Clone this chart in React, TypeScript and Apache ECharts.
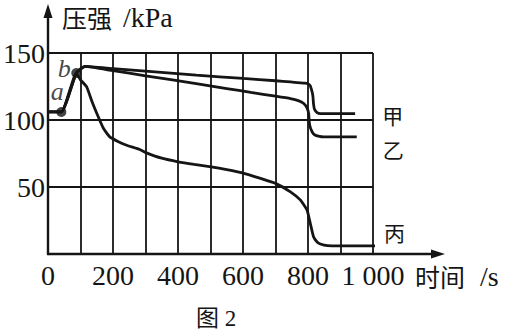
import React, { useEffect, useRef } from 'react';
import * as echarts from 'echarts';

// time (s) vs pressure (kPa)
const xTickValues = [0, 200, 400, 600, 800, 1000];
const yTickValues = [50, 100, 150];
const seriesNames = ['甲', '乙', '丙'];
const pointNames = ['a', 'b'];
const pointData = [[41, 106], [87, 135]];

const jiaData = [
  [0, 106], [41, 106], [87, 135], [114, 140], [200, 138.3], [300, 136.4], [456, 133.5],
  [600, 131], [700, 129.3], [746, 128.4], [790, 127.5], [800, 127], [807, 125.5],
  [812, 121.5], [815, 118], [817, 112], [820, 108], [828, 105.5], [838, 104.8], [945, 104.8],
];
const yiData = [
  [0, 106], [41, 106], [87, 135], [114, 140], [200, 136.8], [300, 133], [456, 127.2],
  [550, 123.5], [624, 120.6], [700, 117.8], [746, 116], [770, 114.5], [787, 112.3],
  [797, 109], [802, 104.8], [804, 98], [807, 94.5], [813, 91], [820, 89], [835, 87.8],
  [848, 87.4], [950, 87.4],
];
const bingData = [
  [0, 106], [41, 106], [87, 135], [100, 130], [119, 124.7], [135, 114], [150, 105],
  [170, 94], [190, 87.4], [215, 84], [242, 81.2], [282, 78], [303, 75.5], [350, 71.5],
  [400, 68.8], [450, 66.8], [502, 65], [550, 63], [598, 60.6], [654, 56.4], [700, 52.7],
  [746, 46.4], [777, 40.2], [797, 32.8], [807, 22.9], [817, 12.9], [828, 9], [838, 7.5],
  [860, 6.2], [899, 6], [1026, 6],
];

export default function App() {
  const ref = useRef<HTMLDivElement>(null);
  useEffect(() => {
    document.body.style.margin = '0';
    const chart = echarts.init(ref.current!, null, { renderer: 'svg' });
    const serif = 'Liberation Serif, Times New Roman, DejaVu Serif, serif';
    const cjk = 'Noto Sans CJK SC, sans-serif';
    const mixed = 'Liberation Serif, DejaVu Serif, Noto Sans CJK SC, serif';
    const ink = '#151515';

    const lineSeries = (name: string, data: number[][], offset: number[]) => ({
      type: 'line',
      name,
      data,
      symbol: 'none',
      smooth: 0.15,
      lineStyle: { color: ink, width: 2.8 },
      endLabel: {
        show: true,
        formatter: () => name,
        fontFamily: cjk,
        fontSize: 21,
        color: ink,
        distance: 5,
        offset,
      },
      z: 3,
    });

    chart.setOption({
      animation: false,
      backgroundColor: '#ffffff',
      grid: { left: 46, right: 133, top: 53, bottom: 77 },
      xAxis: {
        type: 'value',
        min: 0,
        max: 1000,
        interval: 100,
        axisLine: { show: true, lineStyle: { color: ink, width: 2.4 } },
        axisTick: { show: false },
        splitLine: { show: true, lineStyle: { color: ink, width: 1.8 } },
        axisLabel: {
          margin: 7,
          fontFamily: serif,
          fontSize: 28,
          color: ink,
          showMaxLabel: true,
          showMinLabel: true,
          formatter: (v: number) =>
            xTickValues.includes(v) ? (v >= 1000 ? '1 000' : String(v)) : '',
        },
      },
      yAxis: {
        type: 'value',
        min: 0,
        max: 150,
        interval: 50,
        axisLine: { show: true, lineStyle: { color: ink, width: 2.4 } },
        axisTick: { show: false },
        splitLine: { show: true, lineStyle: { color: ink, width: 1.8 } },
        axisLabel: {
          margin: 3,
          fontFamily: serif,
          fontSize: 28,
          color: ink,
          formatter: (v: number) => (yTickValues.includes(v) ? String(v) : ''),
        },
      },
      series: [
        lineSeries(seriesNames[0], jiaData, [22, 1]),
        lineSeries(seriesNames[1], yiData, [21, 12]),
        lineSeries(seriesNames[2], bingData, [4, -14]),
        {
          type: 'scatter',
          data: pointData.map((p, i) => ({
            value: p,
            label: {
              show: true,
              formatter: pointNames[i],
              position: 'inside',
              offset: i === 0 ? [-4, -20] : [-12, -5],
              fontFamily: serif,
              fontStyle: 'italic',
              fontSize: 26,
              color: ink,
            },
          })),
          symbol: 'circle',
          symbolSize: 10,
          itemStyle: { color: ink },
          z: 5,
        },
      ],
    });

    const o = chart.convertToPixel({ gridIndex: 0 }, [0, 0]) as number[];
    const tr = chart.convertToPixel({ gridIndex: 0 }, [1000, 150]) as number[];
    const x0 = o[0];
    const y0 = o[1];
    const yTip = 4;
    const xTip = 445;

    chart.setOption({
      graphic: [
        { type: 'line', shape: { x1: x0, y1: tr[1], x2: x0, y2: yTip + 8 }, style: { stroke: ink, lineWidth: 2.4 }, z: 10 },
        { type: 'polygon', shape: { points: [[x0, yTip], [x0 - 4.5, yTip + 14], [x0 + 4.5, yTip + 14]] }, style: { fill: ink }, z: 10 },
        { type: 'line', shape: { x1: tr[0], y1: y0, x2: xTip - 8, y2: y0 }, style: { stroke: ink, lineWidth: 2.4 }, z: 10 },
        { type: 'polygon', shape: { points: [[xTip, y0], [xTip - 14, y0 - 4.5], [xTip - 14, y0 + 4.5]] }, style: { fill: ink }, z: 10 },
        {
          type: 'text',
          x: 62,
          y: 17,
          style: {
            text: '{c|压强}{l| /kPa}',
            verticalAlign: 'middle',
            align: 'left',
            rich: {
              c: { fontFamily: cjk, fontSize: 25, fill: ink },
              l: { fontFamily: serif, fontSize: 28, fill: ink, padding: [0, 0, 0, 4] },
            },
          },
        },
        {
          type: 'text',
          x: 415,
          y: 276,
          style: {
            text: '{c|时间}{l| /s}',
            verticalAlign: 'middle',
            align: 'left',
            rich: {
              c: { fontFamily: cjk, fontSize: 25, fill: ink },
              l: { fontFamily: serif, fontSize: 28, fill: ink, padding: [0, 0, 0, 8] },
            },
          },
        },
        {
          type: 'text',
          x: 216,
          y: 318,
          style: {
            text: '图 2',
            verticalAlign: 'middle',
            align: 'center',
            fontFamily: mixed,
            fontSize: 23,
            fill: ink,
          },
        },
      ],
    });

    return () => chart.dispose();
  }, []);
  return <div ref={ref} style={{ width: 506, height: 331 }} />;
}
